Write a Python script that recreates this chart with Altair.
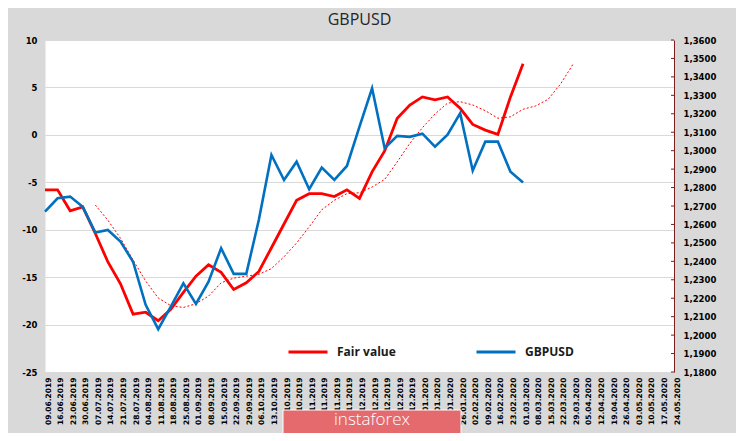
import altair as alt
import pandas as pd

dates = [
    "09.06.2019", "16.06.2019", "23.06.2019", "30.06.2019", "07.07.2019", "14.07.2019",
    "21.07.2019", "28.07.2019", "04.08.2019", "11.08.2019", "18.08.2019", "25.08.2019",
    "01.09.2019", "08.09.2019", "15.09.2019", "22.09.2019", "29.09.2019", "06.10.2019",
    "13.10.2019", "20.10.2019", "27.10.2019", "03.11.2019", "10.11.2019", "17.11.2019",
    "24.11.2019", "01.12.2019", "08.12.2019", "15.12.2019", "22.12.2019", "29.12.2019",
    "05.01.2020", "12.01.2020", "19.01.2020", "26.01.2020", "02.02.2020", "09.02.2020",
    "16.02.2020", "23.02.2020", "01.03.2020", "08.03.2020", "15.03.2020", "22.03.2020",
    "29.03.2020", "05.04.2020", "12.04.2020", "19.04.2020", "26.04.2020", "03.05.2020",
    "10.05.2020", "17.05.2020", "24.05.2020",
]

# Fair value (left axis), from 09.06.2019 to 01.03.2020
fair_value = [
    -5.8, -5.8, -8.0, -7.6, -10.4, -13.4, -15.7, -18.9, -18.7, -19.6,
    -18.4, -16.6, -14.9, -13.7, -14.5, -16.3, -15.6, -14.4, -11.9, -9.4,
    -6.9, -6.2, -6.2, -6.5, -5.8, -6.7, -3.9, -1.7, 1.75, 3.15,
    4.0, 3.7, 4.0, 2.8, 1.1, 0.5, 0.05, 4.0, 7.5,
]

# GBPUSD (right axis), from 09.06.2019 to 01.03.2020
gbpusd = [
    1.2669, 1.2742, 1.2751, 1.2696, 1.2556, 1.2570, 1.2507, 1.2398, 1.2164, 1.2032,
    1.2155, 1.2281, 1.2169, 1.2290, 1.2471, 1.2332, 1.2332, 1.2625, 1.2977, 1.2841,
    1.2940, 1.2791, 1.2908, 1.2841, 1.2917, 1.3130, 1.3338, 1.3013, 1.3080, 1.3075,
    1.3092, 1.3022, 1.3087, 1.3203, 1.2892, 1.3049, 1.3049, 1.2886, 1.2827,
]

# dotted trend of fair value (left axis), from 07.07.2019 to 29.03.2020
trend_start = 4
fair_trend = [
    -7.4, -9.0, -10.9, -13.2, -15.4, -17.2, -18.0, -18.2, -17.8, -17.0,
    -15.6, -15.1, -14.9, -14.7, -14.1, -12.85, -11.4, -9.7, -7.9, -6.9,
    -6.2, -6.1, -5.5, -4.7, -2.85, -0.9, 0.75, 2.2, 3.35, 3.5,
    3.15, 2.55, 1.75, 1.9, 2.7, 3.05, 3.75, 5.4, 7.5,
]

left_ticks = [-25, -20, -15, -10, -5, 0, 5, 10]
right_ticks = [1.18, 1.19, 1.20, 1.21, 1.22, 1.23, 1.24, 1.25, 1.26, 1.27,
               1.28, 1.29, 1.30, 1.31, 1.32, 1.33, 1.34, 1.35, 1.36]

series_names = ["Fair value", "GBPUSD"]
series_colors = ["#ff0000", "#0070c0"]
axis_red = "#7b1f1f"

fv_df = pd.DataFrame({"date": dates[:len(fair_value)], "i": list(range(len(fair_value))),
                      "value": fair_value, "series": series_names[0]})
gb_df = pd.DataFrame({"date": dates[:len(gbpusd)], "i": list(range(len(gbpusd))),
                      "gbp": gbpusd, "series": series_names[1]})
tr_df = pd.DataFrame({"date": dates[trend_start:trend_start + len(fair_trend)],
                      "i": list(range(trend_start, trend_start + len(fair_trend))),
                      "value": fair_trend})
rt_df = pd.DataFrame({"gbp": right_ticks})

x_axis = alt.Axis(title=None, labelAngle=-90, labelFont="DejaVu Sans", labelFontSize=7.5,
                  labelFontWeight="bold", labelColor="#000000", labelPadding=5,
                  labelOffset=3, labelOverlap=False, ticks=False, domain=False, grid=False)


def x_enc():
    return alt.X("date:O", scale=alt.Scale(domain=dates, type="point", padding=0), axis=x_axis)


def left_y():
    return alt.Y("value:Q", scale=alt.Scale(domain=[-25, 10], nice=False, zero=False),
                 axis=alt.Axis(orient="left", values=left_ticks, grid=True, gridColor="#d9d9d9",
                               domain=False, ticks=False, labelPadding=8, title=None,
                               labelFont="DejaVu Sans", labelFontSize=8.5, labelFontWeight="bold",
                               labelColor="#000000", labelExpr="'' + datum.value"))


def right_y():
    return alt.Y("gbp:Q", scale=alt.Scale(domain=[1.18, 1.36], nice=False, zero=False),
                 axis=alt.Axis(orient="right", values=right_ticks, grid=False, domain=True,
                               domainColor=axis_red, domainWidth=1, ticks=False, labelPadding=9,
                               title=None, labelFont="DejaVu Sans", labelFontSize=8.5,
                               labelFontWeight="bold", labelColor="#000000",
                               labelExpr="replace(format(datum.value, '.4f'), '.', ',')"))


legend = alt.Legend(title=None, orient="none", legendX=242, legendY=291, direction="horizontal",
                    symbolType="stroke", symbolSize=1521, symbolStrokeWidth=3,
                    labelFont="Open Sans", labelFontSize=12, labelFontWeight="bold",
                    labelColor="#1a1a1a", labelOffset=8, columnPadding=74, padding=0)


def color_enc():
    return alt.Color("series:N", scale=alt.Scale(domain=series_names, range=series_colors),
                     legend=legend)


red = alt.Chart(fv_df).mark_line(strokeWidth=2.8).encode(
    x=x_enc(), y=left_y(), color=color_enc(), order=alt.Order("i:Q"))

trend = alt.Chart(tr_df).mark_line(color="#ff0000", strokeWidth=1, strokeDash=[2, 2]).encode(
    x=x_enc(), y=left_y(), order=alt.Order("i:Q"))

blue = alt.Chart(gb_df).mark_line(strokeWidth=2.6).encode(
    x=x_enc(), y=right_y(), color=color_enc(), order=alt.Order("i:Q"))

rticks = alt.Chart(rt_df).mark_rule(color=axis_red, strokeWidth=1).encode(
    y=right_y(), x=alt.value(626), x2=alt.value(629))

left_layer = alt.layer(trend, red)
right_layer = alt.layer(blue, rticks)

wm_df = pd.DataFrame({"label": ["instaforex"]})
wm_box = alt.Chart(wm_df).mark_rect(fill="#e46a6e", stroke="white", strokeWidth=1).encode(
    x=alt.value(238), x2=alt.value(416), y=alt.value(370), y2=alt.value(396))
wm_text = alt.Chart(wm_df).mark_text(font="Open Sans", fontSize=17, fontWeight=300,
                                     color="white", align="center", baseline="middle").encode(
    text="label:N", x=alt.value(327), y=alt.value(380))

chart = alt.layer(left_layer, right_layer, wm_box, wm_text).resolve_scale(
    y="independent"
).properties(
    width=629, height=332,
    autosize=alt.AutoSizeParams(type="none"),
    padding={"left": 37, "top": 32, "right": 62, "bottom": 61},
    title=alt.Title("GBPUSD", font="Open Sans", fontSize=16, fontWeight="normal",
                    color="#262626", anchor="middle", offset=8),
).configure(background="#d9d9d9").configure_view(fill="white", stroke="transparent")

chart.save("out.html", embed_options={"renderer": "svg", "actions": False})
